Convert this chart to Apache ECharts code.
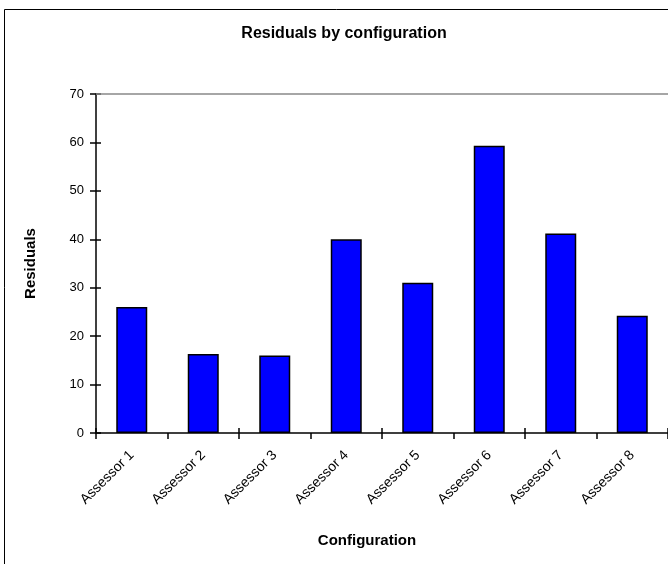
<!DOCTYPE html>
<html>
<head>
<meta charset="utf-8">
<script src="https://cdn.jsdelivr.net/npm/echarts@6/dist/echarts.min.js"></script>
<style>html,body{margin:0;padding:0;background:#fff;}#c{width:668px;height:564px;}</style>
</head>
<body>
<div id="c"></div>
<script>
var categories = ["Assessor 1","Assessor 2","Assessor 3","Assessor 4","Assessor 5","Assessor 6","Assessor 7","Assessor 8"];
var residuals = [26, 16.3, 16, 40, 31, 59.3, 41.2, 24.2];
var yTicks = [0, 10, 20, 30, 40, 50, 60, 70];

var chart = echarts.init(document.getElementById('c'), null, {renderer: 'canvas'});
var font = 'Liberation Sans, Arial, sans-serif';
var yMin = yTicks[0], yMax = yTicks[yTicks.length - 1], yStep = yTicks[1] - yTicks[0];
chart.setOption({
  animation: false,
  backgroundColor: '#fff',
  title: {
    text: 'Residuals by configuration',
    left: 339, top: 21, textAlign: 'center',
    textStyle: {fontFamily: font, fontSize: 16, fontWeight: 'bold', color: '#000'}
  },
  graphic: [{
    type: 'rect', silent: true, z: -1,
    shape: {x: 4.5, y: 9.5, width: 700, height: 600},
    style: {fill: 'none', stroke: '#000', lineWidth: 1}
  }],
  grid: {left: 96, top: 94, width: 576, height: 339, containLabel: false},
  xAxis: [{
    type: 'category', data: categories,
    name: 'Configuration', nameLocation: 'middle', nameGap: 100,
    nameTextStyle: {fontFamily: font, fontSize: 15, fontWeight: 'bold', color: '#000', padding: [0, 30, 0, 0]},
    axisLine: {lineStyle: {color: '#000', width: 1.5}},
    axisTick: {show: true, length: 6, inside: false, lineStyle: {color: '#000', width: 1.5}},
    axisLabel: {rotate: 45, margin: 20, fontFamily: font, fontSize: 14, color: '#000', interval: 0},
    splitLine: {show: false}
  }, {
    type: 'category', data: categories, position: 'bottom',
    axisLine: {show: false},
    axisTick: {show: true, length: 5, inside: true, lineStyle: {color: '#000', width: 1.5}},
    axisLabel: {show: false}, splitLine: {show: false}
  }],
  yAxis: [{
    type: 'value', min: yMin, max: yMax, interval: yStep,
    name: 'Residuals', nameLocation: 'middle', nameGap: 58,
    nameTextStyle: {fontFamily: font, fontSize: 15, fontWeight: 'bold', color: '#000'},
    axisLine: {show: true, lineStyle: {color: '#000', width: 1.5}},
    axisTick: {show: true, length: 6, inside: false, lineStyle: {color: '#000', width: 1.5}},
    axisLabel: {margin: 12, fontFamily: font, fontSize: 13, color: '#000'},
    splitLine: {show: false}
  }, {
    type: 'value', min: yMin, max: yMax, interval: yStep, position: 'left',
    axisLine: {show: false},
    axisTick: {show: true, length: 5, inside: true, lineStyle: {color: '#000', width: 1.5}},
    axisLabel: {show: false}, splitLine: {show: false}
  }],
  series: [{
    type: 'bar', data: residuals, barWidth: 31,
    xAxisIndex: 0, yAxisIndex: 0,
    itemStyle: {color: '#0000ff', borderColor: '#000', borderWidth: 1.5},
    markLine: {
      silent: true, symbol: 'none', label: {show: false},
      lineStyle: {color: '#888', width: 1.5, type: 'solid'},
      data: [{yAxis: yMax}]
    }
  }]
});
</script>
</body>
</html>
